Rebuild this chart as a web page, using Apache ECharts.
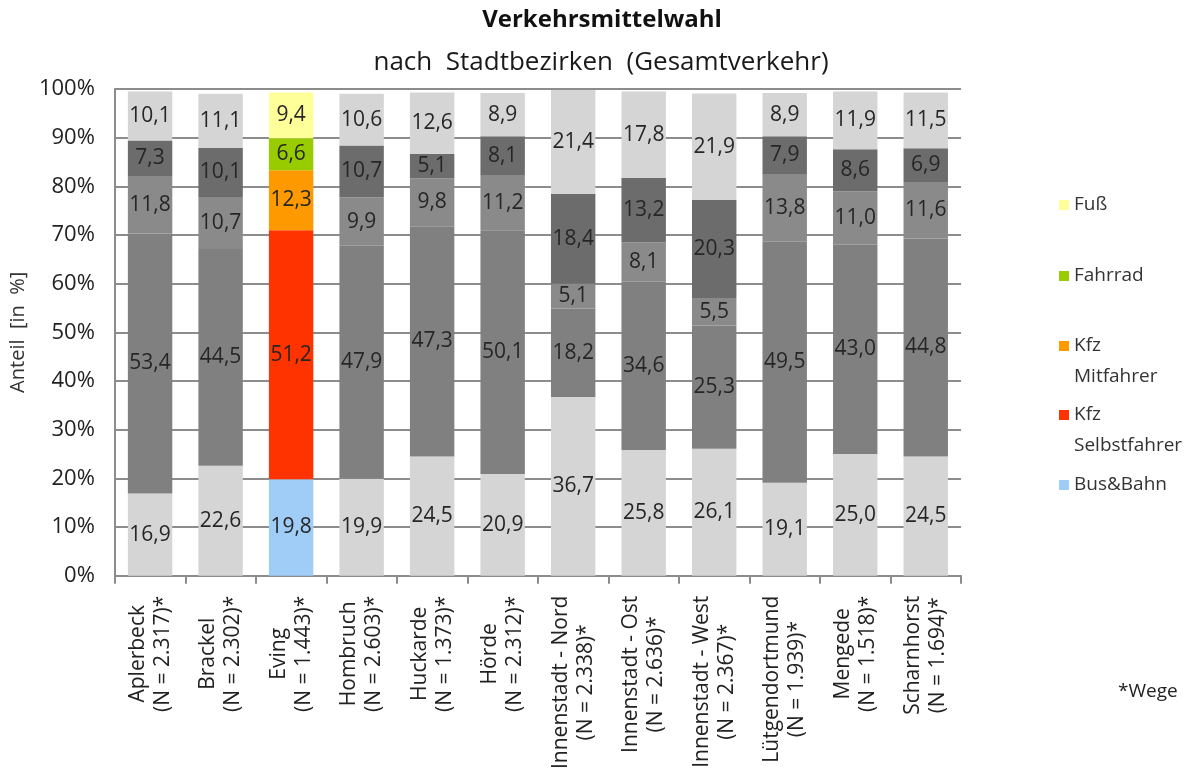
<!DOCTYPE html>
<html>
<head>
<meta charset="utf-8">
<title>Verkehrsmittelwahl nach Stadtbezirken</title>
<script src="https://cdn.jsdelivr.net/npm/echarts@6/dist/echarts.min.js"></script>
<style>
  html, body { margin: 0; padding: 0; background: #ffffff; }
  #chart { width: 1187px; height: 772px; }
</style>
</head>
<body>
<div id="chart"></div>
<script>
// Stadtbezirke und Anzahl der erfassten Wege
const districts = ['Aplerbeck', 'Brackel', 'Eving', 'Hombruch', 'Huckarde', 'Hörde',
  'Innenstadt - Nord', 'Innenstadt - Ost', 'Innenstadt - West', 'Lütgendortmund', 'Mengede', 'Scharnhorst'];
const tripCounts = ['2.317', '2.302', '1.443', '2.603', '1.373', '2.312',
  '2.338', '2.636', '2.367', '1.939', '1.518', '1.694'];

// Anteile in % je Verkehrsmittel (von unten nach oben gestapelt)
const busBahn   = [16.9, 22.6, 19.8, 19.9, 24.5, 20.9, 36.7, 25.8, 26.1, 19.1, 25.0, 24.5];
const kfzSelbst = [53.4, 44.5, 51.2, 47.9, 47.3, 50.1, 18.2, 34.6, 25.3, 49.5, 43.0, 44.8];
const kfzMit    = [11.8, 10.7, 12.3,  9.9,  9.8, 11.2,  5.1,  8.1,  5.5, 13.8, 11.0, 11.6];
const fahrrad   = [ 7.3, 10.1,  6.6, 10.7,  5.1,  8.1, 18.4, 13.2, 20.3,  7.9,  8.6,  6.9];
const fuss      = [10.1, 11.1,  9.4, 10.6, 12.6,  8.9, 21.4, 17.8, 21.9,  8.9, 11.9, 11.5];

const yTickLabels = ['0%', '10%', '20%', '30%', '40%', '50%', '60%', '70%', '80%', '90%', '100%'];

// Nur der hervorgehobene Bezirk wird farbig dargestellt, alle anderen in Grautönen
const highlighted = 'Eving';
const FONT = '"Open Sans", "Noto Sans", sans-serif';
const X_LABEL_SIZE = 21;

const modes = [
  { name: 'Bus&Bahn',           values: busBahn,   color: '#9fcdf8', gray: '#d5d5d5' },
  { name: 'Kfz\nSelbstfahrer',  values: kfzSelbst, color: '#ff3300', gray: '#808080' },
  { name: 'Kfz\nMitfahrer',     values: kfzMit,    color: '#ff9900', gray: '#8a8a8a' },
  { name: 'Fahrrad',            values: fahrrad,   color: '#99cc00', gray: '#6c6c6c' },
  { name: 'Fuß',                values: fuss,      color: '#ffff99', gray: '#d5d5d5' }
];

const series = modes.map(m => ({
  name: m.name,
  type: 'bar',
  stack: 'anteil',
  barCategoryGap: '37%',
  itemStyle: { color: m.color },
  label: {
    show: true,
    position: 'inside',
    color: '#262626',
    fontFamily: FONT,
    fontSize: 21,
    formatter: p => p.value.toFixed(1).replace('.', ',')
  },
  emphasis: { disabled: true },
  data: m.values.map((v, i) => districts[i] === highlighted
    ? { value: v }
    : { value: v, itemStyle: { color: m.gray } })
}));

// Achsenbeschriftung: zwei Zeilen je Bezirk, zueinander zentriert
const measureCtx = document.createElement('canvas').getContext('2d');
measureCtx.font = X_LABEL_SIZE + 'px ' + FONT;
const xRich = {};
districts.forEach((d, i) => {
  const l1 = d;
  const l2 = '(N = ' + tripCounts[i] + ')*';
  const w1 = measureCtx.measureText(l1).width;
  const w2 = measureCtx.measureText(l2).width;
  const wMax = Math.max(w1, w2);
  const base = { fontFamily: FONT, fontSize: X_LABEL_SIZE, lineHeight: 25, color: '#222222' };
  const p1 = (wMax - w1) / 2, p2 = (wMax - w2) / 2;
  xRich['a' + i] = Object.assign({}, base, { padding: [0, p1, 0, p1] });
  xRich['b' + i] = Object.assign({}, base, { padding: [0, p2, 0, p2] });
});

// Legende rechts: je Eintrag eine eigene Position, Symbol auf Höhe der ersten Zeile
const legendSpec = [
  { name: 'Fuß',               iconY: 205, lines: 1 },
  { name: 'Fahrrad',           iconY: 276, lines: 1 },
  { name: 'Kfz\nMitfahrer',    iconY: 346, lines: 2 },
  { name: 'Kfz\nSelbstfahrer', iconY: 415, lines: 2 },
  { name: 'Bus&Bahn',          iconY: 485, lines: 1 }
];
const LEG_LH = 31;
const legends = legendSpec.map(l => ({
  orient: 'vertical',
  left: 1054,
  top: l.lines === 1 ? l.iconY - LEG_LH / 2 - 5 : l.iconY - LEG_LH * 1.5 - 5,
  icon: 'rect',
  itemWidth: 10,
  itemHeight: 10,
  selectedMode: false,
  data: [l.name],
  formatter: name => (name.indexOf('\n') >= 0 ? ' \n' + name : name),
  textStyle: {
    fontFamily: FONT,
    fontSize: 19,
    color: '#333333',
    lineHeight: LEG_LH
  }
}));

const option = {
  backgroundColor: '#ffffff',
  animation: false,
  title: [
    {
      text: 'Verkehrsmittelwahl',
      left: 597, top: 3, textAlign: 'center',
      textStyle: { fontFamily: FONT, fontSize: 24, fontWeight: 'bold', color: '#111111' }
    },
    {
      text: 'nach  Stadtbezirken  (Gesamtverkehr)',
      left: 596, top: 45, textAlign: 'center',
      textStyle: { fontFamily: FONT, fontSize: 26, fontWeight: 'normal', color: '#1a1a1a' }
    }
  ],
  legend: legends,
  grid: { left: 110, right: 226, top: 89, bottom: 196, containLabel: false },
  xAxis: {
    type: 'category',
    data: districts,
    axisLine: { show: true, lineStyle: { color: '#8c8c8c', width: 2 } },
    axisTick: { show: true, length: 8, lineStyle: { color: '#8c8c8c', width: 2 } },
    axisLabel: {
      interval: 0,
      rotate: 90,
      margin: 20,
      formatter: (v, i) => '{a' + i + '|' + v + '}\n{b' + i + '|(N = ' + tripCounts[i] + ')*}',
      rich: xRich
    }
  },
  yAxis: {
    type: 'value',
    min: 0,
    max: 100,
    interval: 10,
    name: 'Anteil  [in  %]',
    nameLocation: 'middle',
    nameGap: 75,
    nameTextStyle: { fontFamily: FONT, fontSize: 20, color: '#333333' },
    axisLine: { show: true, lineStyle: { color: '#8c8c8c', width: 2 } },
    axisTick: { show: false },
    splitLine: { show: true, lineStyle: { color: '#8c8c8c', width: 2 } },
    axisLabel: {
      margin: 20,
      fontFamily: FONT,
      fontSize: 22,
      color: '#222222',
      formatter: v => yTickLabels[Math.round(v / 10)]
    }
  },
  graphic: [
    {
      type: 'text',
      left: 1118,
      top: 682,
      style: { text: '*Wege', fill: '#222222', font: '19px ' + FONT }
    }
  ],
  series: series
};

const chart = echarts.init(document.getElementById('chart'), null, { renderer: 'canvas' });
chart.setOption(option);
</script>
</body>
</html>
